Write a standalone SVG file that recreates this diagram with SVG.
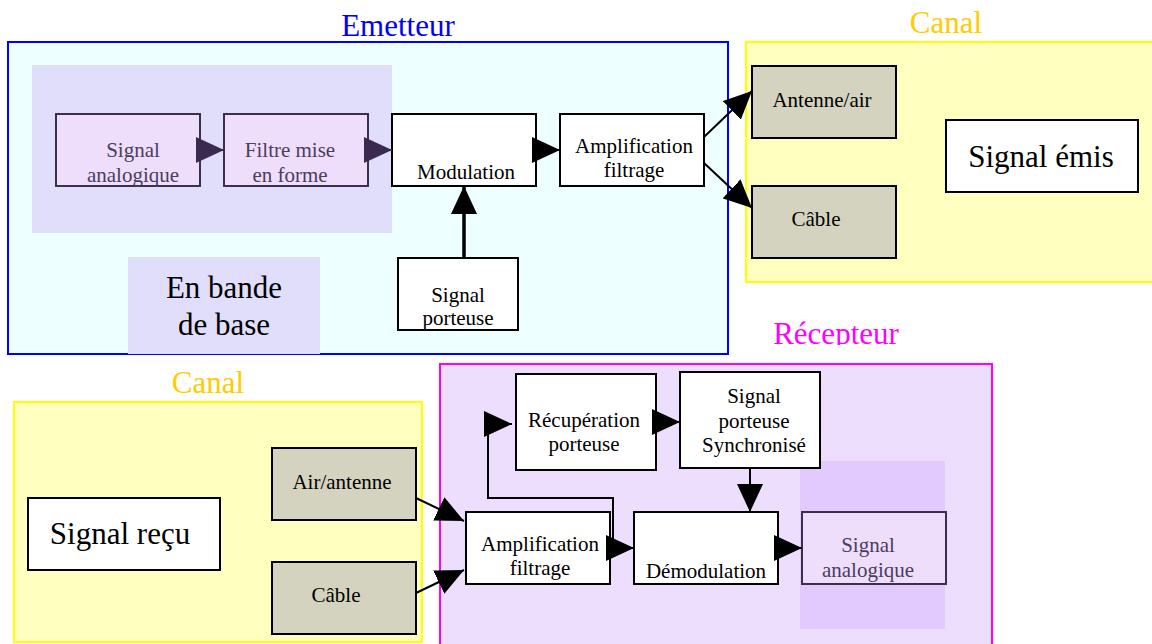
<svg xmlns="http://www.w3.org/2000/svg" width="1152" height="644" viewBox="0 0 1152 644">
<style>
text{font-family:"Liberation Serif","Times New Roman",serif;text-anchor:middle}
.t{font-size:21px;fill:#000}
.tb{font-size:21px;fill:#4B3D5E}
.big{font-size:31px;fill:#000}
.title{font-size:31px}
.box{fill:#fff;stroke:#000;stroke-width:2}
.gbox{fill:#D3D3BF;stroke:#000;stroke-width:2}
.pbox{fill:#EEDEFC;stroke:#3B2F4B;stroke-width:2}
.conn{fill:none;stroke:#000;stroke-width:2}
.thick{stroke-width:3.5}
.pconn{fill:none;stroke:#3B2A4F;stroke-width:2}
</style>
<defs>
<marker id="ah" markerUnits="userSpaceOnUse" viewBox="0 0 28 26" refX="28" refY="13" markerWidth="28" markerHeight="26" orient="auto"><path d="M0,0 L28,13 L0,26 Z" fill="#000"/></marker>
<marker id="ahp" markerUnits="userSpaceOnUse" viewBox="0 0 28 26" refX="28" refY="13" markerWidth="28" markerHeight="26" orient="auto"><path d="M0,0 L28,13 L0,26 Z" fill="#3B2A4F"/></marker>
<clipPath id="rclip"><rect x="700" y="300" width="300" height="45"/></clipPath>
</defs>
<rect width="1152" height="644" fill="#fff"/>

<g id="emetteur">
<rect x="8" y="42" width="720" height="312" fill="#EEFFFF" stroke="#0000FF" stroke-width="2"/>
<text class="title" x="398" y="36" fill="#0000FF">Emetteur</text>
<rect x="32" y="65" width="360" height="168" fill="#E1DEFC"/>
<rect x="128" y="257" width="192" height="97" fill="#E1DEFC"/>
<text class="big" x="224" y="298">En bande</text>
<text class="big" x="224" y="335">de base</text>
</g>

<g id="canal-haut">
<rect x="746" y="42" width="420" height="240" fill="#FFFFC0" stroke="#FFFF00" stroke-width="2"/>
<text class="title" x="946" y="33" fill="#FFCC00">Canal</text>
</g>

<g id="canal-bas">
<rect x="14" y="402" width="408" height="240" fill="#FFFFC0" stroke="#FFFF00" stroke-width="2"/>
<text class="title" x="208" y="393" fill="#FFCC00">Canal</text>
</g>

<g id="recepteur">
<rect x="440" y="364" width="552" height="300" fill="#EEDEFE" stroke="#FF00FF" stroke-width="2"/>
<text class="title" x="836" y="344" fill="#FF00FF" clip-path="url(#rclip)">Récepteur</text>
<rect x="800" y="461" width="145" height="168" fill="#E2CAFE"/>
</g>

<g id="tx-signal-analogique">
<rect class="pbox" x="56" y="114" width="144" height="72"/>
<text class="tb" x="133" y="157">Signal</text>
<text class="tb" x="133" y="182">analogique</text>
</g>
<g id="tx-filtre">
<rect class="pbox" x="224" y="114" width="144" height="72"/>
<text class="tb" x="290" y="157">Filtre mise</text>
<text class="tb" x="290" y="182">en forme</text>
</g>
<g id="tx-modulation">
<rect class="box" x="392" y="114" width="144" height="72"/>
<text class="t" x="466" y="179">Modulation</text>
</g>
<g id="tx-amplification">
<rect class="box" x="560" y="114" width="144" height="72"/>
<text class="t" x="634" y="153">Amplification</text>
<text class="t" x="634" y="177">filtrage</text>
</g>
<g id="tx-porteuse">
<rect class="box" x="398" y="258" width="120" height="72"/>
<text class="t" x="458" y="302">Signal</text>
<text class="t" x="458" y="325">porteuse</text>
</g>

<g id="c1-antenne">
<rect class="gbox" x="752" y="66" width="144" height="72"/>
<text class="t" x="822" y="107">Antenne/air</text>
</g>
<g id="c1-cable">
<rect class="gbox" x="752" y="186" width="144" height="72"/>
<text class="t" x="816" y="226">Câble</text>
</g>
<g id="c1-signal-emis">
<rect class="box" x="946" y="120" width="192" height="72"/>
<text class="big" x="1041" y="167">Signal émis</text>
</g>

<g id="c2-signal-recu">
<rect class="box" x="28" y="498" width="192" height="72"/>
<text class="big" x="120" y="544">Signal reçu</text>
</g>
<g id="c2-air-antenne">
<rect class="gbox" x="272" y="448" width="144" height="72"/>
<text class="t" x="342" y="489">Air/antenne</text>
</g>
<g id="c2-cable">
<rect class="gbox" x="272" y="562" width="144" height="72"/>
<text class="t" x="336" y="602">Câble</text>
</g>

<g id="rx-recuperation">
<rect class="box" x="516" y="374" width="140" height="96"/>
<text class="t" x="584" y="427">Récupération</text>
<text class="t" x="584" y="451">porteuse</text>
</g>
<g id="rx-synchronise">
<rect class="box" x="680" y="372" width="140" height="96"/>
<text class="t" x="754" y="403">Signal</text>
<text class="t" x="754" y="428">porteuse</text>
<text class="t" x="754" y="452">Synchronisé</text>
</g>
<g id="rx-amplification">
<rect class="box" x="466" y="512" width="144" height="72"/>
<text class="t" x="540" y="551">Amplification</text>
<text class="t" x="540" y="575">filtrage</text>
</g>
<g id="rx-demodulation">
<rect class="box" x="634" y="512" width="144" height="72"/>
<text class="t" x="706" y="578">Démodulation</text>
</g>
<g id="rx-signal-analogique">
<rect class="pbox" x="802" y="512" width="144" height="72"/>
<text class="tb" x="868" y="552">Signal</text>
<text class="tb" x="868" y="577">analogique</text>
</g>

<g id="connectors">
<line class="pconn" x1="200" y1="150" x2="224" y2="150" marker-end="url(#ahp)"/>
<line class="pconn" x1="368" y1="150" x2="392" y2="150" marker-end="url(#ahp)"/>
<line class="conn" x1="536" y1="150" x2="560" y2="150" marker-end="url(#ah)"/>
<line class="conn thick" x1="464" y1="258" x2="464" y2="186" marker-end="url(#ah)"/>
<line class="conn" x1="704" y1="137" x2="752" y2="91" marker-end="url(#ah)"/>
<line class="conn" x1="704" y1="163" x2="752" y2="208" marker-end="url(#ah)"/>
<line class="conn" x1="416" y1="498" x2="464" y2="521" marker-end="url(#ah)"/>
<line class="conn" x1="416" y1="593" x2="464" y2="570" marker-end="url(#ah)"/>
<line class="conn" x1="610" y1="548" x2="634" y2="548" marker-end="url(#ah)"/>
<polyline class="conn" points="613,550 613,498 488,498 488,424 512,424" marker-end="url(#ah)"/>
<line class="conn" x1="656" y1="422" x2="680" y2="422" marker-end="url(#ah)"/>
<line class="conn" x1="750" y1="468" x2="750" y2="512" marker-end="url(#ah)"/>
<line class="conn" x1="778" y1="548" x2="802" y2="548" marker-end="url(#ah)"/>
</g>
</svg>
